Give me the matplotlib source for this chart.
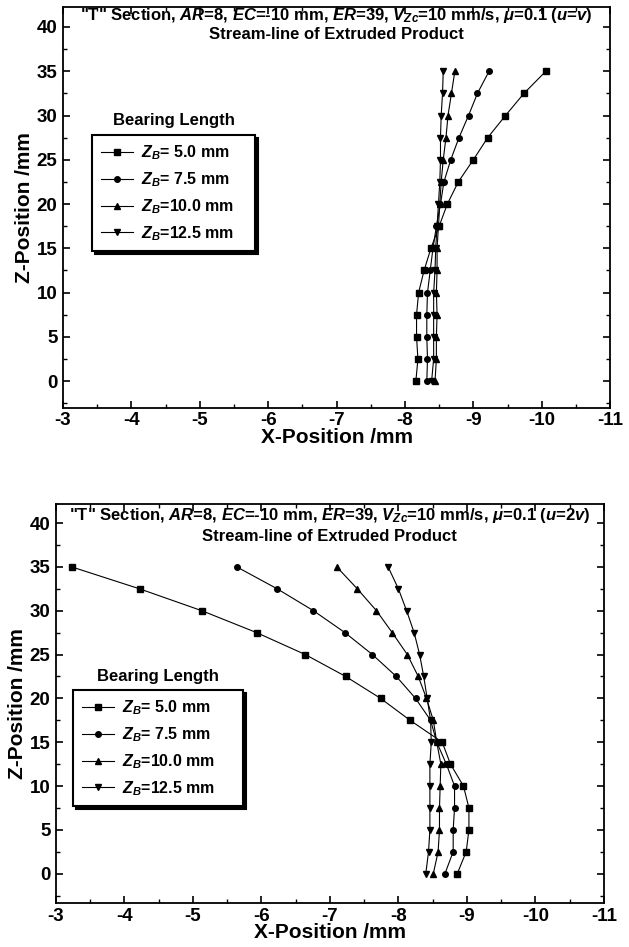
import numpy as np
import matplotlib.pyplot as plt
from matplotlib.ticker import MultipleLocator

plt.rcParams['font.family'] = ['Liberation Sans', 'DejaVu Sans']
plt.rcParams['font.weight'] = 'bold'
plt.rcParams['axes.unicode_minus'] = False
plt.rcParams['mathtext.fontset'] = 'custom'
plt.rcParams['mathtext.it'] = 'Liberation Sans:italic:bold'
plt.rcParams['mathtext.rm'] = 'Liberation Sans:bold'
plt.rcParams['mathtext.bf'] = 'Liberation Sans:bold'

# z positions (mm)
z_pos = [0, 2.5, 5, 7.5, 10, 12.5, 15, 17.5, 20, 22.5, 25, 27.5, 30, 32.5, 35]

# top panel (u=v), x positions per bearing length
top_zb50 = [-8.16, -8.19, -8.17, -8.17, -8.20, -8.28, -8.38, -8.50, -8.62, -8.78, -9.00, -9.21, -9.47, -9.74, -10.06]
top_zb75 = [-8.32, -8.33, -8.32, -8.32, -8.33, -8.37, -8.41, -8.46, -8.52, -8.57, -8.67, -8.79, -8.93, -9.06, -9.23]
top_zb100 = [-8.44, -8.46, -8.46, -8.47, -8.46, -8.47, -8.47, -8.49, -8.51, -8.53, -8.56, -8.60, -8.63, -8.68, -8.73]
top_zb125 = [-8.39, -8.42, -8.42, -8.42, -8.42, -8.44, -8.45, -8.47, -8.49, -8.51, -8.52, -8.52, -8.53, -8.55, -8.56]

# bottom panel (u=2v)
bot_zb50 = [-8.86, -8.99, -9.03, -9.03, -8.95, -8.76, -8.64, -8.17, -7.74, -7.23, -6.64, -5.93, -5.13, -4.22, -3.23]
bot_zb75 = [-8.68, -8.80, -8.80, -8.82, -8.82, -8.70, -8.56, -8.47, -8.25, -7.97, -7.62, -7.22, -6.76, -6.23, -5.64]
bot_zb100 = [-8.51, -8.58, -8.60, -8.60, -8.61, -8.62, -8.56, -8.51, -8.41, -8.29, -8.13, -7.91, -7.68, -7.40, -7.10]
bot_zb125 = [-8.40, -8.44, -8.46, -8.46, -8.46, -8.46, -8.48, -8.47, -8.42, -8.37, -8.31, -8.23, -8.12, -8.00, -7.85]

labels = [r'$Z_B$= 5.0 mm', r'$Z_B$= 7.5 mm', r'$Z_B$=10.0 mm', r'$Z_B$=12.5 mm']
markers = ['s', 'o', '^', 'v']

titles = [r'"T" Section, $AR$=8, $EC$=-10 mm, $ER$=39, $V_{Zc}$=10 mm/s, $\mu$=0.1 ($u$=$v$)',
          r'"T" Section, $AR$=8, $EC$=-10 mm, $ER$=39, $V_{Zc}$=10 mm/s, $\mu$=0.1 ($u$=2$v$)']

fig = plt.figure(figsize=(6.29, 9.47), dpi=100)
ax1 = fig.add_axes([0.100, 0.569, 0.870, 0.424])
ax2 = fig.add_axes([0.089, 0.046, 0.871, 0.422])

W, H = 629, 947
panels = [
    (ax1, [top_zb50, top_zb75, top_zb100, top_zb125], (-3.05, 42.3), (92, 135, 255, 252), (0.978, 0.93)),
    (ax2, [bot_zb50, bot_zb75, bot_zb100, bot_zb125], (-3.4, 42.2), (73, 690, 243, 805), (0.97, 0.918)),
]

for k, (ax, series, ylim, box, ty) in enumerate(panels):
    for xs, m, lab in zip(series, markers, labels):
        ax.plot(xs, z_pos, color='k', lw=0.8, marker=m, ms=4, label=lab)
    ax.set_xlim(-3, -11)
    ax.set_ylim(*ylim)
    ax.xaxis.set_major_locator(MultipleLocator(1))
    ax.xaxis.set_minor_locator(MultipleLocator(0.5))
    ax.yaxis.set_major_locator(MultipleLocator(5))
    ax.yaxis.set_minor_locator(MultipleLocator(2.5))
    ax.tick_params(which='both', direction='in', top=True, right=True, labelsize=13.5)
    ax.tick_params(which='major', length=5, width=1.2, pad=4)
    ax.tick_params(axis='x', which='major', pad=3)
    ax.tick_params(which='minor', length=3, width=1)
    for sp in ax.spines.values():
        sp.set_linewidth(1.3)
    ax.set_xlabel('X-Position /mm', fontsize=15, fontweight='bold', labelpad=-1)
    ax.set_ylabel('Z-Position /mm', fontsize=15, fontweight='bold', labelpad=2)
    ax.text(0.5, ty[0], titles[k], transform=ax.transAxes, ha='center', va='center',
            fontsize=12, fontweight='bold')
    ax.text(0.5, ty[1], 'Stream-line of Extruded Product', transform=ax.transAxes,
            ha='center', va='center', fontsize=12, fontweight='bold')

    # legend box in figure pixels (left, top, right, bottom)
    l, t, r, b = box
    leg = ax.legend(loc='upper left', bbox_to_anchor=(l / W, 1 - b / H, (r - l) / W, (b - t) / H),
                    bbox_transform=fig.transFigure, mode='expand', frameon=True, fancybox=False,
                    shadow={'color': 'k', 'alpha': 1}, edgecolor='k', framealpha=1,
                    prop={'size': 11.5, 'weight': 'bold'}, handlelength=2.0, handletextpad=0.5,
                    borderpad=0.55, labelspacing=0.5, borderaxespad=0)
    leg.get_frame().set_linewidth(1.5)
    fig.text((l + r) / 2 / W, 1 - (t - 14) / H, 'Bearing Length', ha='center', va='center',
             fontsize=12, fontweight='bold')

fig.savefig('out.png', dpi=100)
